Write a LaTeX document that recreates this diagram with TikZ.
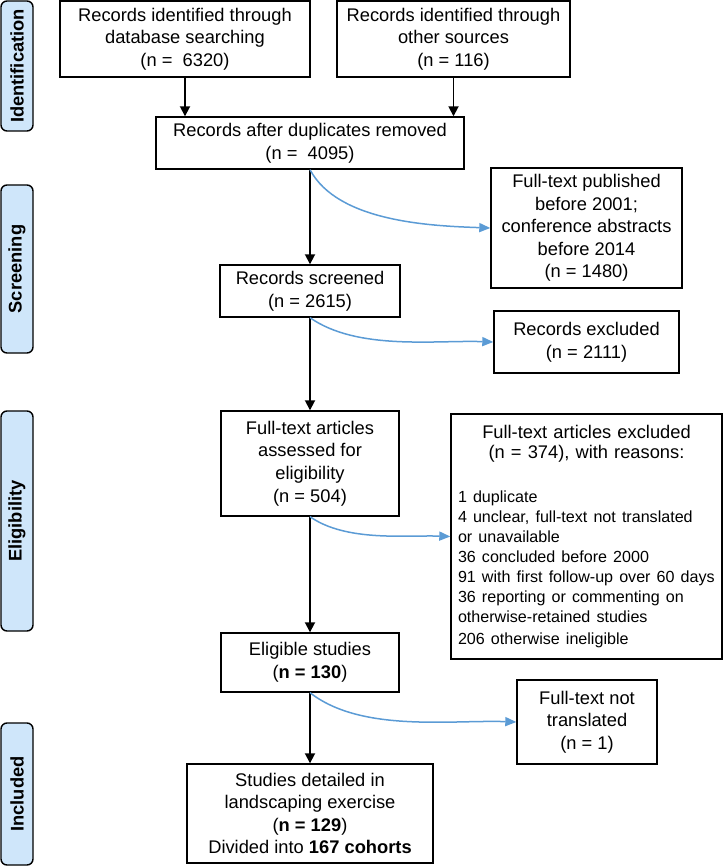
\documentclass[tikz,border=0pt]{standalone}
\usepackage{fontspec}
\setmainfont{Liberation Sans}
\usetikzlibrary{arrows.meta, positioning, calc}

\definecolor{stageblue}{RGB}{207,230,250}
\definecolor{arrowblue}{RGB}{91,155,213}

\begin{document}
\begin{tikzpicture}[x=1pt, y=-1pt,
    box/.style={draw, line width=1.4pt, align=center, inner sep=0pt, font=\fontsize{18.3}{22.6}\selectfont},
    stage/.style={draw, line width=1.4pt, rounded corners=6pt, fill=stageblue, rotate=90, inner sep=0pt, minimum height=32pt, font=\fontsize{18.3}{22}\selectfont\bfseries},
    flow/.style={line width=1.8pt, -{Triangle[width=10pt, length=10pt]}},
    drop/.style={arrowblue, line width=1.5pt, -{Triangle[width=9pt, length=11pt]}, looseness=0.8}
  ]
    \useasboundingbox (0,0) rectangle (723,866);

    % Stage bars on the left
    \node[stage, minimum width=130pt] (ident) at (17,66) {Identification};
    \node[stage, minimum width=168pt] (scr) at (17,269) {Screening};
    \node[stage, minimum width=220pt] (elg) at (17,521) {Eligibility};
    \node[stage, minimum width=142pt] (inc) at (17,794) {Included};

    % Main flow boxes
    \node[box, minimum width=250pt, minimum height=76pt] (db) at (185,39) {Records identified through\\database searching\\(n = ~6320)};
    \node[box, minimum width=233pt, minimum height=76pt] (other) at (453.5,39) {Records identified through\\other sources\\(n = 116)};
    \node[box, minimum width=308pt, minimum height=52pt] (dup) at (310,143) {Records after duplicates removed\\(n = ~4095)};
    \node[box, minimum width=180pt, minimum height=52pt] (screen) at (310,291) {Records screened\\(n = 2615)};
    \node[box, minimum width=178pt, minimum height=105pt] (assess) at (310,463.5) {Full-text articles\\assessed for\\eligibility\\(n = 504)};
    \node[box, minimum width=178pt, minimum height=59pt] (elig) at (310,662.5) {Eligible studies\\(\textbf{n = 130})};
    \node[box, minimum width=246pt, minimum height=99pt] (final) at (310,813.5) {Studies detailed in\\landscaping exercise\\(\textbf{n = 129})\\Divided into \textbf{167 cohorts}};

    % Exclusion boxes on the right
    \node[box, minimum width=191pt, minimum height=120pt] (pub) at (586.5,228) {Full-text published\\before 2001;\\conference abstracts\\before 2014\\(n = 1480)};
    \node[box, minimum width=185pt, minimum height=62pt] (excl) at (586.5,342) {Records excluded\\(n = 2111)};
    \node[box, minimum height=245pt, text width=263pt, inner xsep=4pt, align=left] (reasons) at (586.5,536.5) {%
      \centering\fontsize{18.3}{20.7}\selectfont Full-text articles excluded\\(n = 374), with reasons:\par
      \vspace{24pt}\raggedright\fontsize{16.1}{19.9}\selectfont
      \hspace*{3pt}1 duplicate\\
      \hspace*{3pt}4 unclear, full-text not translated\\
      \hspace*{3pt}or unavailable\\
      \hspace*{3pt}36 concluded before 2000\\
      \hspace*{3pt}\mbox{91 with first follow-up over 60 days}\\
      \hspace*{3pt}36 reporting or commenting on\\
      \hspace*{3pt}otherwise-retained studies\\
      \hspace*{3pt}206 otherwise ineligible};
    \node[box, minimum width=140pt, minimum height=84pt] (nottr) at (587,722) {Full-text not\\translated\\(n = 1)};

    % Black arrows
    \draw[flow] (db.south) -- (db.south |- dup.north);
    \draw[flow] (other.south) -- (other.south |- dup.north);
    \draw[flow] (dup) -- (screen);
    \draw[flow] (screen) -- (assess);
    \draw[flow] (assess) -- (elig);
    \draw[flow] (elig) -- (final);

    % Blue exclusion arrows
    \draw[drop] (dup.south) to[out=-62, in=178] (pub.west);
    \draw[drop] (screen.south) to[out=-35, in=178] (excl.west);
    \draw[drop] (assess.south) to[out=-35, in=178] (reasons.west);
    \draw[drop] (elig.south) to[out=-38, in=178] (nottr.west);
\end{tikzpicture}
\end{document}
